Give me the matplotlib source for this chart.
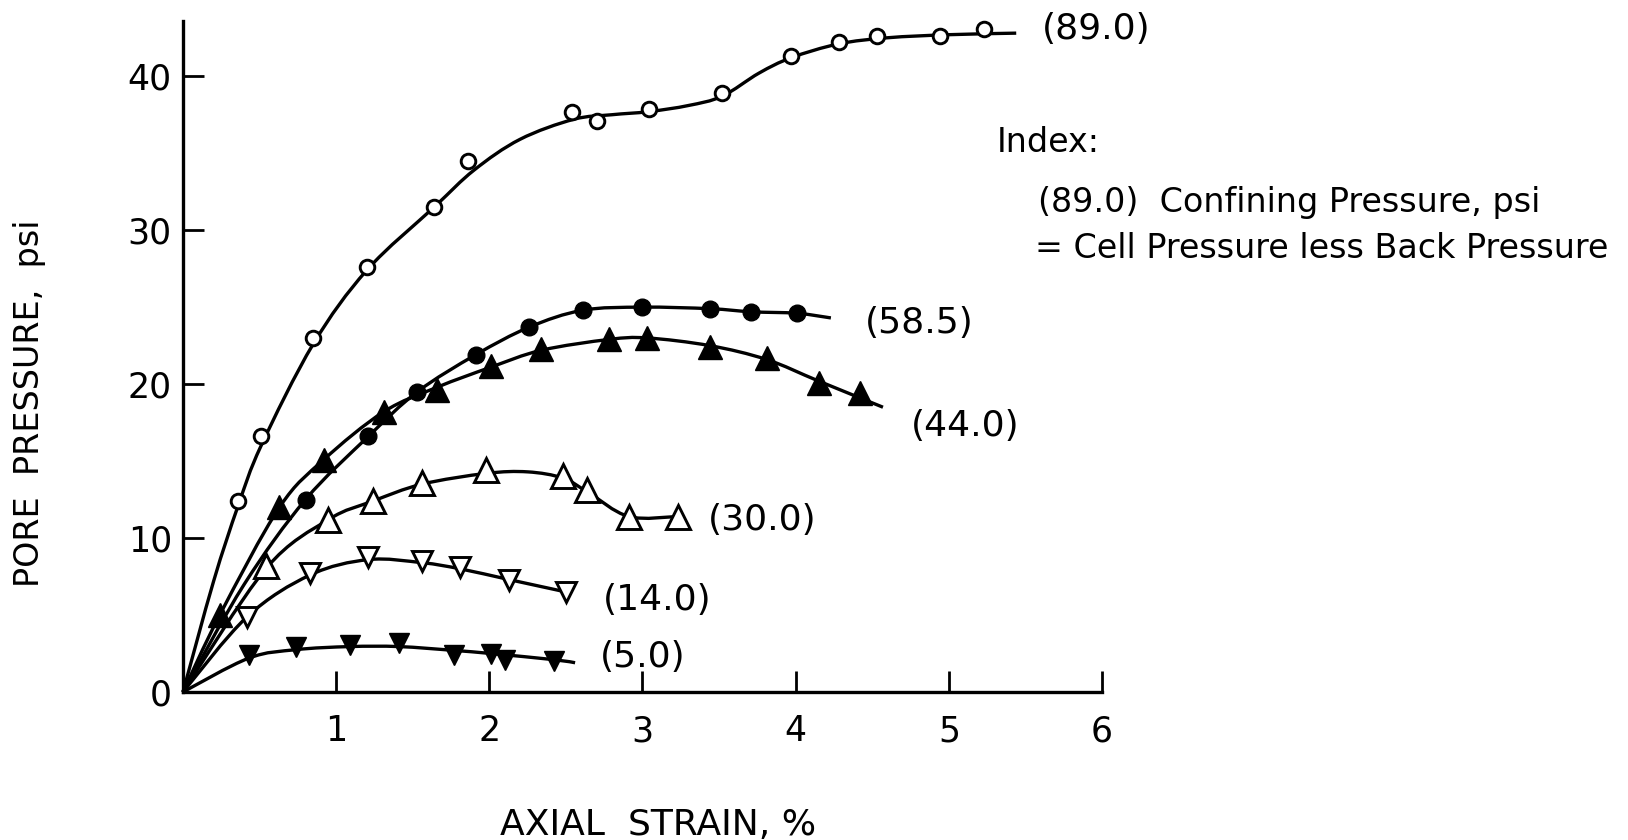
import numpy as np
import matplotlib
matplotlib.use('agg')
import matplotlib.pyplot as plt
from matplotlib.path import Path
from matplotlib.patches import PathPatch

# pore pressure (psi) against axial strain (%), one series per confining pressure
# marker points
strain_89 = [0.36, 0.51, 0.85, 1.20, 1.64, 1.86, 2.54, 2.70, 3.04, 3.52, 3.97, 4.28, 4.53, 4.94, 5.23]
pore_89 = [12.4, 16.6, 23.0, 27.6, 31.5, 34.5, 37.7, 37.1, 37.9, 38.9, 41.3, 42.2, 42.6, 42.6, 43.1]

strain_585 = [0.80, 1.21, 1.53, 1.91, 2.26, 2.61, 3.00, 3.44, 3.71, 4.01]
pore_585 = [12.5, 16.6, 19.5, 21.9, 23.7, 24.8, 25.0, 24.9, 24.7, 24.6]

strain_44 = [0.24, 0.63, 0.92, 1.31, 1.66, 2.01, 2.34, 2.78, 3.03, 3.44, 3.81, 4.15, 4.42]
pore_44 = [5.0, 12.0, 15.1, 18.2, 19.6, 21.2, 22.3, 22.9, 23.0, 22.4, 21.7, 20.1, 19.4]

strain_30 = [0.54, 0.95, 1.24, 1.56, 1.98, 2.48, 2.64, 2.91, 3.23]
pore_30 = [8.2, 11.2, 12.4, 13.6, 14.4, 14.0, 13.1, 11.4, 11.4]

strain_14 = [0.42, 0.83, 1.21, 1.56, 1.81, 2.13, 2.50]
pore_14 = [4.9, 7.7, 8.8, 8.5, 8.1, 7.3, 6.5]

strain_5 = [0.43, 0.74, 1.09, 1.41, 1.77, 2.01, 2.10, 2.42]
pore_5 = [2.4, 2.9, 3.05, 3.2, 2.4, 2.5, 2.1, 2.0]

# hand drawn fitted curves (knots)
curve_89_x = [0, 0.2, 0.36, 0.51, 0.85, 1.2, 1.64, 1.9, 2.2, 2.55, 2.8, 3.04, 3.3, 3.52, 3.76, 3.97, 4.28, 4.6, 5.0, 5.44]
curve_89_y = [0, 7.2, 12.1, 16.0, 22.6, 27.4, 31.5, 33.9, 35.9, 37.2, 37.5, 37.7, 38.1, 38.7, 40.2, 41.2, 42.1, 42.5, 42.7, 42.8]
curve_585_x = [0, 0.4, 0.80, 1.21, 1.53, 1.91, 2.26, 2.61, 3.00, 3.44, 3.71, 4.01, 4.23]
curve_585_y = [0, 7.0, 12.5, 16.6, 19.5, 21.9, 23.7, 24.8, 25.0, 24.9, 24.7, 24.6, 24.3]
curve_44_x = [0, 0.24, 0.63, 0.92, 1.31, 1.66, 2.01, 2.34, 2.78, 3.03, 3.44, 3.81, 4.15, 4.57]
curve_44_y = [0, 5.0, 12.0, 15.1, 18.2, 19.8, 21.1, 22.2, 22.9, 23.0, 22.5, 21.6, 20.2, 18.5]
curve_30_x = [0, 0.54, 0.95, 1.24, 1.56, 1.98, 2.25, 2.48, 2.64, 2.91, 3.23]
curve_30_y = [0, 8.0, 11.2, 12.4, 13.5, 14.2, 14.3, 13.9, 13.0, 11.4, 11.4]
curve_14_x = [0, 0.42, 0.83, 1.21, 1.56, 1.81, 2.13, 2.50]
curve_14_y = [0, 4.9, 7.6, 8.6, 8.4, 8.0, 7.3, 6.5]
curve_5_x = [0, 0.43, 0.74, 1.09, 1.41, 1.77, 2.01, 2.42, 2.56]
curve_5_y = [0, 2.2, 2.75, 2.95, 2.95, 2.7, 2.5, 2.1, 1.9]

labels = ['(89.0)', '(58.5)', '(44.0)', '(30.0)', '(14.0)', '(5.0)']


def smooth_path(xs, ys):
    # catmull-rom knots turned into cubic bezier segments
    pts = np.column_stack([xs, ys]).astype(float)
    ext = np.vstack([pts[0], pts, pts[-1]])
    verts = [pts[0]]
    codes = [Path.MOVETO]
    for i in range(1, len(ext) - 2):
        p0, p1, p2, p3 = ext[i - 1], ext[i], ext[i + 1], ext[i + 2]
        verts += [p1 + (p2 - p0) / 6.0, p2 - (p3 - p1) / 6.0, p2]
        codes += [Path.CURVE4] * 3
    return Path(verts, codes)


plt.rcParams['font.family'] = ['DejaVu Sans']

fig = plt.figure(figsize=(16.28, 8.40), dpi=100)
ax = fig.add_axes([0.1124, 0.1762, 0.5645, 0.799])

curves = [(curve_89_x, curve_89_y), (curve_585_x, curve_585_y), (curve_44_x, curve_44_y),
          (curve_30_x, curve_30_y), (curve_14_x, curve_14_y), (curve_5_x, curve_5_y)]
for cx, cy in curves:
    ax.add_patch(PathPatch(smooth_path(cx, cy), facecolor='none', edgecolor='black',
                           linewidth=2.4, clip_on=False, zorder=2))

ax.plot(strain_89, pore_89, 'o', ms=10.5, mfc='white', mec='black', mew=2.1, clip_on=False, zorder=3)
ax.plot(strain_585, pore_585, 'o', ms=12, mfc='black', mec='black', clip_on=False, zorder=3)
ax.plot(strain_44, pore_44, '^', ms=17, mfc='black', mec='black', clip_on=False, zorder=3)
ax.plot(strain_30, pore_30, '^', ms=17, mfc='white', mec='black', mew=2.1, clip_on=False, zorder=3)
ax.plot(strain_14, pore_14, 'v', ms=14, mfc='white', mec='black', mew=2.1, clip_on=False, zorder=3)
ax.plot(strain_5, pore_5, 'v', ms=14, mfc='black', mec='black', clip_on=False, zorder=3)

label_pos = [(5.61, 43.05), (4.45, 24.0), (4.75, 17.3), (3.43, 11.2), (2.74, 6.0), (2.72, 2.3)]
for lab, (lx, ly) in zip(labels, label_pos):
    ax.text(lx, ly, lab, fontsize=26, ha='left', va='center')

ax.set_xlim(0, 6)
ax.set_ylim(0, 43.6)
ax.set_xticks([1, 2, 3, 4, 5, 6])
ax.set_yticks([0, 10, 20, 30, 40])
ax.tick_params(direction='in', length=15, width=2, labelsize=25)
ax.tick_params(axis='x', pad=16)
ax.tick_params(axis='y', pad=8)
for side in ['top', 'right']:
    ax.spines[side].set_visible(False)
for side in ['left', 'bottom']:
    ax.spines[side].set_linewidth(2.4)

fig.text(0.018, 0.52, 'PORE  PRESSURE,  psi', rotation=90, fontsize=24, ha='center', va='center')
fig.text(0.404, 0.018, 'AXIAL  STRAIN, %', fontsize=26, ha='center', va='center')

fig.text(0.612, 0.830, 'Index:', fontsize=24, ha='left', va='center')
fig.text(0.6376, 0.7595, '(89.0)  Confining Pressure, psi', fontsize=24, ha='left', va='center')
fig.text(0.636, 0.7036, '= Cell Pressure less Back Pressure', fontsize=24, ha='left', va='center')

fig.savefig('out.png', dpi=100)
